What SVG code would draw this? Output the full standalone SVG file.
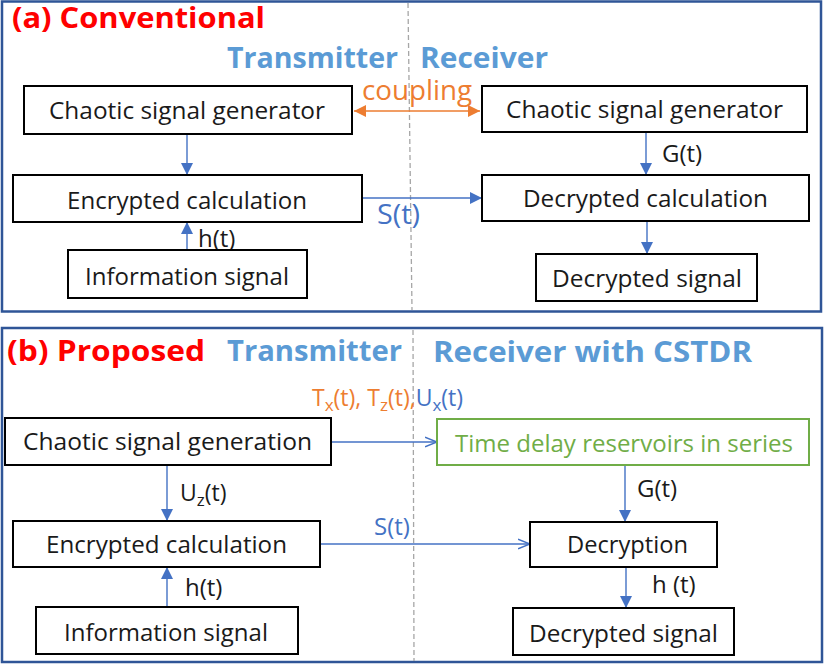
<svg xmlns="http://www.w3.org/2000/svg" width="825" height="664" viewBox="0 0 825 664">
<style>
text{font-family:"Open Sans","Liberation Sans",sans-serif}
.panel{fill:none;stroke:#2F5597;stroke-width:2.5}
.box{fill:#fff;stroke:#000;stroke-width:2}
.gbox{fill:#fff;stroke:#70AD47;stroke-width:2}
.t{font-size:24px;fill:#1a1a1a;text-anchor:middle}
.gt{font-size:24px;fill:#70AD47;text-anchor:middle}
.title{font-size:28px;font-weight:bold;fill:#FF0000}
.hdr{font-size:29px;font-weight:bold;fill:#5B9BD5}
.lbl{font-size:24px;fill:#1a1a1a}
.blbl{fill:#4472C4}
.olbl{fill:#ED7D31}
.dash{stroke:#A6A6A6;stroke-width:1.3;stroke-dasharray:5 3;fill:none}
.c{stroke:#4472C4;stroke-width:1.4;fill:none}
.co{stroke:#ED7D31;stroke-width:1.6;fill:none}
</style>
<defs>
<marker id="ab" markerUnits="userSpaceOnUse" markerWidth="12" markerHeight="12" viewBox="0 0 10 10" refX="10" refY="5" orient="auto"><path d="M0,0 L10,5 L0,10 z" fill="#4472C4"/></marker>
<marker id="ao" markerUnits="userSpaceOnUse" markerWidth="12" markerHeight="12" viewBox="0 0 10 10" refX="10" refY="5" orient="auto"><path d="M0,1 L10,5 L0,9" fill="none" stroke="#4472C4" stroke-width="1.2"/></marker>
<marker id="aor" markerUnits="userSpaceOnUse" markerWidth="12" markerHeight="12" viewBox="0 0 10 10" refX="10" refY="5" orient="auto-start-reverse"><path d="M0,0 L10,5 L0,10 z" fill="#ED7D31"/></marker>
</defs>

<rect class="panel" x="2" y="1.5" width="819" height="310"/>
<rect class="panel" x="2" y="328" width="820" height="334"/>
<line class="dash" x1="408" y1="3" x2="412" y2="310"/>
<line class="dash" x1="413" y1="330" x2="414" y2="661"/>

<text class="title" x="12" y="28" textLength="253" lengthAdjust="spacingAndGlyphs">(a) Conventional</text>
<text class="hdr" x="227" y="68" textLength="171" lengthAdjust="spacingAndGlyphs">Transmitter</text>
<text class="hdr" x="420" y="68" textLength="128" lengthAdjust="spacingAndGlyphs">Receiver</text>
<text class="title" x="7" y="361" textLength="198" lengthAdjust="spacingAndGlyphs">(b) Proposed</text>
<text class="hdr" x="227" y="361" textLength="175" lengthAdjust="spacingAndGlyphs">Transmitter</text>
<text class="hdr" x="433" y="362" textLength="319" lengthAdjust="spacingAndGlyphs">Receiver with CSTDR</text>

<g id="connectors">
<line class="co" x1="354" y1="111" x2="480" y2="111" marker-start="url(#aor)" marker-end="url(#aor)"/>
<line class="c" x1="187" y1="134" x2="187" y2="175" marker-end="url(#ab)"/>
<line class="c" x1="187" y1="250" x2="187" y2="222" marker-end="url(#ab)"/>
<line class="c" x1="362" y1="198" x2="482" y2="198" marker-end="url(#ab)"/>
<line class="c" x1="646" y1="132" x2="646" y2="175" marker-end="url(#ab)"/>
<line class="c" x1="647" y1="221" x2="647" y2="254" marker-end="url(#ab)"/>
<line class="c" x1="331" y1="442" x2="437" y2="442" marker-end="url(#ao)"/>
<line class="c" x1="167" y1="465" x2="167" y2="521" marker-end="url(#ab)"/>
<line class="c" x1="167" y1="607" x2="167" y2="567" marker-end="url(#ab)"/>
<line class="c" x1="320" y1="544" x2="530" y2="544" marker-end="url(#ao)"/>
<line class="c" x1="625" y1="465" x2="625" y2="522" marker-end="url(#ab)"/>
<line class="c" x1="626" y1="567" x2="626" y2="608" marker-end="url(#ab)"/>
<text class="lbl olbl" x="362" y="100" textLength="110" lengthAdjust="spacingAndGlyphs" style="font-size:27px">coupling</text>
<text class="lbl" x="198" y="247">h(t)</text>
<text class="lbl blbl" x="377" y="224" style="font-size:28px" textLength="43" lengthAdjust="spacingAndGlyphs">S(t)</text>
<text class="lbl" x="662" y="162">G(t)</text>
<text class="lbl" x="312" y="406" style="font-size:23px"><tspan class="olbl">T</tspan><tspan class="olbl" dy="5" style="font-size:17px">x</tspan><tspan class="olbl" dy="-5">(t), T</tspan><tspan class="olbl" dy="5" style="font-size:17px">z</tspan><tspan class="olbl" dy="-5">(t),</tspan><tspan class="blbl">U</tspan><tspan class="blbl" dy="5" style="font-size:17px">x</tspan><tspan class="blbl" dy="-5">(t)</tspan></text>
<text class="lbl" x="180" y="501" style="font-size:23px">U<tspan dy="5" style="font-size:17px">z</tspan><tspan dy="-5">(t)</tspan></text>
<text class="lbl" x="637" y="497">G(t)</text>
<text class="lbl blbl" x="374" y="535">S(t)</text>
<text class="lbl" x="185" y="596">h(t)</text>
<text class="lbl" x="652" y="593">h (t)</text>
</g>

<g id="a-tx-gen"><rect class="box" x="24" y="86" width="328" height="48"/><text class="t" x="187" y="119" textLength="276" lengthAdjust="spacingAndGlyphs">Chaotic signal generator</text></g>
<g id="a-rx-gen"><rect class="box" x="482" y="86" width="325" height="46"/><text class="t" x="644.5" y="118" textLength="277" lengthAdjust="spacingAndGlyphs">Chaotic signal generator</text></g>
<g id="a-enc"><rect class="box" x="13" y="175" width="349" height="47"/><text class="t" x="187" y="209" textLength="240" lengthAdjust="spacingAndGlyphs">Encrypted calculation</text></g>
<g id="a-info"><rect class="box" x="68" y="250" width="239" height="48"/><text class="t" x="187" y="285" textLength="204" lengthAdjust="spacingAndGlyphs">Information signal</text></g>
<g id="a-dec"><rect class="box" x="482" y="175" width="327" height="46"/><text class="t" x="645.5" y="207" textLength="245" lengthAdjust="spacingAndGlyphs">Decrypted calculation</text></g>
<g id="a-decsig"><rect class="box" x="536" y="254" width="221" height="47"/><text class="t" x="647" y="287" textLength="190" lengthAdjust="spacingAndGlyphs">Decrypted signal</text></g>

<g id="b-gen"><rect class="box" x="5" y="418" width="326" height="47"/><text class="t" x="167.5" y="450" textLength="289" lengthAdjust="spacingAndGlyphs">Chaotic signal generation</text></g>
<g id="b-tdr"><rect class="gbox" x="437" y="419" width="372" height="46"/><text class="gt" x="624" y="452" textLength="338" lengthAdjust="spacingAndGlyphs">Time delay reservoirs in series</text></g>
<g id="b-enc"><rect class="box" x="13" y="521" width="307" height="46"/><text class="t" x="166.5" y="553" textLength="241" lengthAdjust="spacingAndGlyphs">Encrypted calculation</text></g>
<g id="b-info"><rect class="box" x="36" y="607" width="262" height="47"/><text class="t" x="166" y="641" textLength="204" lengthAdjust="spacingAndGlyphs">Information signal</text></g>
<g id="b-dec"><rect class="box" x="530" y="522" width="187" height="45"/><text class="t" x="627.5" y="553" textLength="121" lengthAdjust="spacingAndGlyphs">Decryption</text></g>
<g id="b-decsig"><rect class="box" x="513" y="608" width="221" height="47"/><text class="t" x="623.5" y="642" textLength="189" lengthAdjust="spacingAndGlyphs">Decrypted signal</text></g>
</svg>
